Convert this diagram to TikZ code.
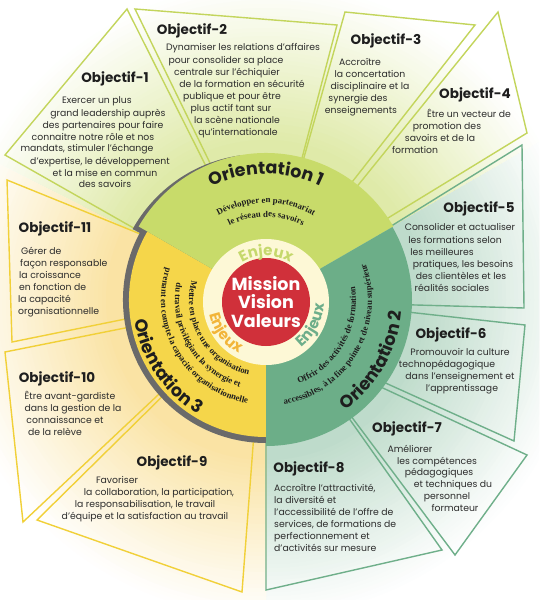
\documentclass[tikz,border=0pt]{standalone}
\usepackage{fontspec}
\setmainfont{Poppins}
\newfontfamily\serifbf{Liberation Serif}
\usetikzlibrary{decorations.text}
\definecolor{gOne}{HTML}{C8DB6A}
\definecolor{gTwo}{HTML}{6CAE88}
\definecolor{gThree}{HTML}{F5D64A}
\definecolor{glowY}{HTML}{F5C84A}
\definecolor{shadowgray}{HTML}{6A6A6A}
\definecolor{redc}{HTML}{D0303A}
\definecolor{creamc}{HTML}{FDF8D6}
\definecolor{lineOne}{HTML}{C3D55C}
\definecolor{lineTwo}{HTML}{6FAF8A}
\definecolor{lineThree}{HTML}{F1D038}
\definecolor{enjA}{HTML}{C5D86C}
\definecolor{enjB}{HTML}{6DAE8A}
\definecolor{enjC}{HTML}{F2B53A}
\definecolor{inkc}{HTML}{1E1E1E}
\definecolor{bodyc}{HTML}{2C2C2C}
\tikzset{
  objline/.style={line width=1.4pt, line join=miter},
  ttl/.style={font=\bfseries\fontsize{13.5}{14}\selectfont, text=inkc, anchor=base, inner sep=0pt},
  bdy/.style={font=\fontsize{9.3}{11}\selectfont, text=bodyc, anchor=base, inner sep=0pt},
  bdyl/.style={bdy, anchor=base west}
}
\begin{document}
\begin{tikzpicture}[x=1pt,y=1pt]
\useasboundingbox (0,0) rectangle (539,-600);
\clip (0,0) rectangle (539,-600);
\fill[white] (0,0) rectangle (539,-600);
\coordinate (C) at (266,-300);
\coordinate (C2) at (266,-302);

% background glow
\begin{scope}
\clip (C) -- ++(30:700pt) arc[start angle=30,end angle=153,radius=700pt] -- cycle;
\foreach \r in {320,316,...,148}{\pgfmathtruncatemacro\p{min(58,58*(320-\r)/160)}\fill[gOne!\p!white] (C) circle[radius=\r pt];}
\end{scope}
\begin{scope}
\clip (C) -- ++(-90:700pt) arc[start angle=-90,end angle=30,radius=700pt] -- cycle;
\foreach \r in {320,316,...,148}{\pgfmathtruncatemacro\p{min(44,44*(320-\r)/160)}\fill[gTwo!\p!white] (C) circle[radius=\r pt];}
\end{scope}
\begin{scope}
\clip (C) -- ++(153:700pt) arc[start angle=153,end angle=270,radius=700pt] -- cycle;
\foreach \r in {320,316,...,148}{\pgfmathtruncatemacro\p{min(50,50*(320-\r)/160)}\fill[glowY!\p!white] (C) circle[radius=\r pt];}
\end{scope}

% objective frames
\draw[objline, draw=lineOne] (127,-9) -- (223,-200) -- (160,-243) -- (5,-155) -- cycle;
\draw[objline, draw=lineOne] (135,-9) -- (337,-25) -- (291,-200) -- (228,-200) -- cycle;
\draw[objline, draw=lineOne] (345,-12) -- (475,-25) -- (338,-200) -- (292,-200) -- cycle;
\draw[objline, draw=lineOne] (498,-12) -- (527,-133) -- (370,-229) -- (338,-210) -- cycle;
\draw[objline, draw=lineTwo] (522,-145) -- (524,-308) -- (380,-304) -- (380,-233) -- cycle;
\draw[objline, draw=lineTwo] (525,-325) -- (514,-441) -- (370,-376) -- (380,-309) -- cycle;
\draw[objline, draw=lineTwo] (527,-455) -- (455,-555) -- (339,-400) -- (370,-382) -- cycle;
\draw[objline, draw=lineTwo] (442,-550) -- (266,-590) -- (266,-430) -- (336,-400) -- cycle;
\draw[objline, draw=lineThree] (242,-592) -- (37,-520) -- (180,-379) -- (255,-420) -- cycle;
\draw[objline, draw=lineThree] (5,-352) -- (23,-522) -- (175,-379) -- (160,-321) -- cycle;
\draw[objline, draw=lineThree] (7,-180) -- (12,-342) -- (160,-312) -- (165,-244) -- cycle;

% gray shadow
\fill[shadowgray] (C) -- ++(150:143pt) arc[start angle=150,end angle=270,radius=143pt] -- cycle;
\begin{scope}
\clip (C) -- ++(152:220pt) arc[start angle=152,end angle=100,radius=220pt] -- cycle;
\fill[shadowgray] ([xshift=-5.7pt]C) circle[radius=146pt];
\end{scope}

% sectors
\fill[gThree] (C) -- ++(150:137pt) arc[start angle=150,end angle=270,radius=137pt] -- cycle;
\fill[gOne] (C) -- ++(30:147pt) arc[start angle=30,end angle=150,radius=147pt] -- cycle;
\fill[gTwo] (C) -- ++(-90:146pt) arc[start angle=-90,end angle=30,radius=146pt] -- cycle;

% center
\fill[creamc] (C2) circle[radius=63pt];
\fill[redc] (C2) circle[radius=44pt];
\node[font=\bfseries\fontsize{17.5}{18.3}\selectfont, text=white, align=center, inner sep=0pt] (mvv) at (C2) {Mission\\Vision\\Valeurs};

% Enjeux
\path[decorate, decoration={text along path, text align=center, text color=enjA, text={|\bfseries\fontsize{15}{15}\selectfont|Enjeux}}] ([shift={(150:46pt)}]C2) arc[start angle=150,end angle=30,radius=46pt];
\path[decorate, decoration={text along path, text align=center, text color=enjB, text={|\bfseries\fontsize{15}{15}\selectfont|Enjeux}}] ([shift={(-87:58pt)}]C2) arc[start angle=-87,end angle=33,radius=58pt];
\path[decorate, decoration={text along path, text align=center, text color=enjC, text={|\bfseries\fontsize{15}{15}\selectfont|Enjeux}}] ([shift={(157:58pt)}]C2) arc[start angle=157,end angle=277,radius=58pt];

% Orientation titles
\path[decorate, decoration={text along path, text align=center, text color=inkc, text={|\bfseries\fontsize{17.5}{18}\selectfont|Orientation 1}}] ([shift={(140:126pt)}]C) arc[start angle=140,end angle=40,radius=126pt];
\path[decorate, decoration={text along path, text align=center, text color=inkc, text={|\bfseries\fontsize{17.5}{18}\selectfont|Orientation 2}}] ([shift={(-79.5:136pt)}]C) arc[start angle=-79.5,end angle=20.5,radius=136pt];
\path[decorate, decoration={text along path, text align=center, text color=inkc, text={|\bfseries\fontsize{17.5}{18}\selectfont|Orientation 3}}] ([shift={(164:133pt)}]C) arc[start angle=164,end angle=264,radius=133pt];

% Orientation descriptions
\path[decorate, decoration={text along path, text align=center, text color=inkc, text={|\serifbf\bfseries\fontsize{8.8}{9}\selectfont|Développer en partenariat}}] ([shift={(150:97pt)}]C) arc[start angle=150,end angle=30,radius=97pt];
\path[decorate, decoration={text along path, text align=center, text color=inkc, text={|\serifbf\bfseries\fontsize{8.8}{9}\selectfont|le réseau des savoirs}}] ([shift={(150:83pt)}]C) arc[start angle=150,end angle=30,radius=83pt];
\path[decorate, decoration={text along path, text align=center, text color=inkc, text={|\serifbf\bfseries\fontsize{8.8}{9}\selectfont|Offrir des activités de formation}}] ([shift={(-110:90pt)}]C) arc[start angle=-110,end angle=50,radius=90pt];
\path[decorate, decoration={text along path, text align=center, text color=inkc, text={|\serifbf\bfseries\fontsize{8.8}{9}\selectfont|accessibles, à la fine pointe et de niveau supérieur}}] ([shift={(-110:106pt)}]C) arc[start angle=-110,end angle=50,radius=106pt];
\path[decorate, decoration={text along path, text align=center, text color=inkc, text={|\serifbf\bfseries\fontsize{8.8}{9}\selectfont|Mettre en place une organisation}}] ([shift={(131:77pt)}]C) arc[start angle=131,end angle=291,radius=77pt];
\path[decorate, decoration={text along path, text align=center, text color=inkc, text={|\serifbf\bfseries\fontsize{8.8}{9}\selectfont|du travail privilégiant la synergie et}}] ([shift={(131:91pt)}]C) arc[start angle=131,end angle=291,radius=91pt];
\path[decorate, decoration={text along path, text align=center, text color=inkc, text={|\serifbf\bfseries\fontsize{8.8}{9}\selectfont|prenant en compte la capacité organisationnelle}}] ([shift={(131:105pt)}]C) arc[start angle=131,end angle=291,radius=105pt];

% Objective titles
\node[ttl] (t1) at (115,-82) {Objectif-1};
\node[ttl] (t2) at (192,-34) {Objectif-2};
\node[ttl] (t3) at (386,-44) {Objectif-3};
\node[ttl] (t4) at (475,-98) {Objectif-4};
\node[ttl] (t5) at (479,-212) {Objectif-5};
\node[ttl] (t6) at (451,-338) {Objectif-6};
\node[ttl] (t7) at (407,-432) {Objectif-7};
\node[ttl] (t8) at (309,-472) {Objectif-8};
\node[ttl] (t9) at (172,-466) {Objectif-9};
\node[ttl] (t10) at (57,-382) {Objectif-10};
\node[ttl] (t11) at (55,-232) {Objectif-11};

% Objective texts
\foreach \px/\py/\tx [count=\i] in {97/100/{Exercer un plus}, 108/113/{grand leadership auprès}, 103/125/{des partenaires pour faire}, 93/137/{connaitre notre rôle et nos}, 87/148/{mandats, stimuler l'échange}, 100/161/{d'expertise, le développement}, 105/173/{et la mise en commun}, 105/184/{des savoirs}}
  {\node[bdy] (a\i) at (\px,-\py-3) {\tx};}
\foreach \px/\py/\tx [count=\i] in {243/47/{Dynamiser les relations d'affaires}, 226/60/{pour consolider sa place}, 227/72/{centrale sur l'échiquier}, 242/84/{de la formation en sécurité}, 232/96/{publique et pour être}, 231/108/{plus actif tant sur}, 237/120/{la scène nationale}, 238/132/{qu'internationale}}
  {\node[bdy] (b\i) at (\px,-\py-3) {\tx};}
\foreach \px/\py/\tx [count=\i] in {360/62/{Accroître}, 370/74/{la concertation}, 370/86/{disciplinaire et la}, 358/98/{synergie des}, 361/110/{enseignements}}
  {\node[bdy] (c\i) at (\px,-\py-3) {\tx};}
\foreach \px/\py/\tx [count=\i] in {469/114/{Être un vecteur de}, 447/126/{promotion des}, 440/138/{savoirs et de la}, 415/150/{formation}}
  {\node[bdy] (d\i) at (\px,-\py-3) {\tx};}
\foreach \px/\py/\tx [count=\i] in {460/227/{Consolider et actualiser}, 455/240/{les formations selon}, 442/252/{les meilleures}, 463/264/{pratiques, les besoins}, 461/276/{des clientèles et les}, 452/288/{réalités sociales}}
  {\node[bdy] (e\i) at (\px,-\py-3) {\tx};}
\foreach \px/\py/\tx [count=\i] in {460/352/{Promouvoir la culture}, 447/364/{technopédagogique}, 460/376/{dans l'enseignement et}, 462/388/{l'apprentissage}}
  {\node[bdy] (f\i) at (\px,-\py-3) {\tx};}
\foreach \px/\py/\tx [count=\i] in {410/449/{Améliorer}, 437/461/{les compétences}, 439/472/{pédagogiques}, 453/484/{et techniques du}, 447/496/{personnel}, 455/508/{formateur}}
  {\node[bdy] (g\i) at (\px,-\py-3) {\tx};}
\foreach \py/\tx [count=\i] in {488/{Accroître l'attractivité,}, 500/{la diversité et}, 512/{l'accessibilité de l'offre de}, 524/{services, de formations de}, 536/{perfectionnement et}, 548/{d'activités sur mesure}}
  {\node[bdyl] (h\i) at (274,-\py-3) {\tx};}
\foreach \px/\py/\tx [count=\i] in {117/480/{Favoriser}, 159/492/{la collaboration, la participation,}, 145/504/{la responsabilisation, le travail}, 145/516/{d'équipe et la satisfaction au travail}}
  {\node[bdy] (k\i) at (\px,-\py-3) {\tx};}
\foreach \px/\py/\tx [count=\i] in {70/396/{Être avant-gardiste}, 73/408/{dans la gestion de la}, 65/420/{connaissance et}, 55/432/{de la relève}}
  {\node[bdy] (m\i) at (\px,-\py-3) {\tx};}
\foreach \px/\py/\tx [count=\i] in {21/251/{Gérer de}, 20/263/{façon responsable}, 19/275/{la croissance}, 19/287/{en fonction de}, 18/299/{la capacité}, 18/311/{organisationnelle}}
  {\node[bdyl] (n\i) at (\px,-\py-3) {\tx};}
\end{tikzpicture}
\end{document}
